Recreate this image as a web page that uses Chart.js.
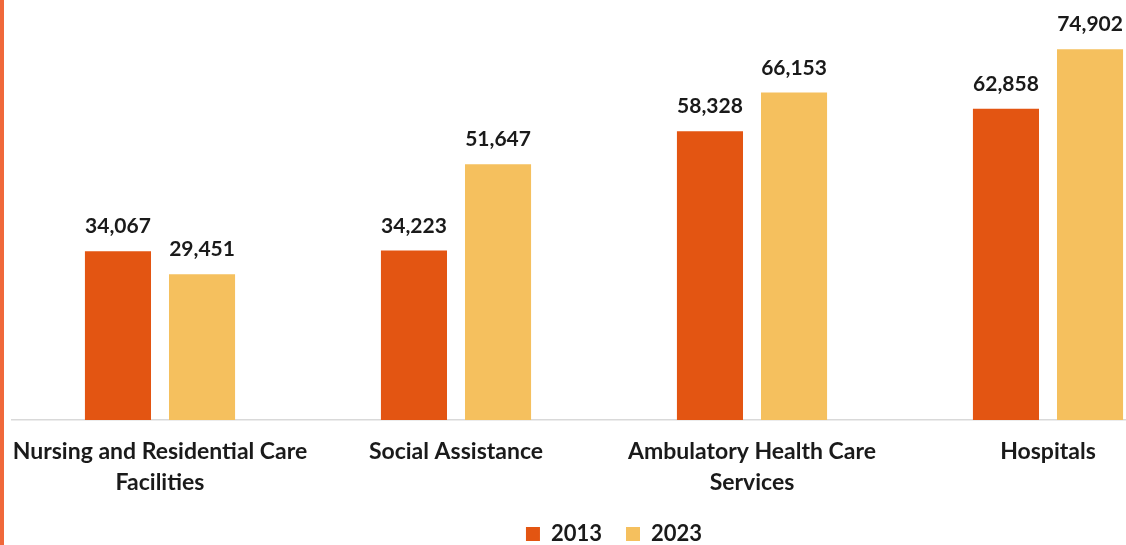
<!DOCTYPE html>
<html>
<head>
<meta charset="utf-8">
<script src="https://cdn.jsdelivr.net/npm/chart.js@4"></script>
<style>
  html,body{margin:0;padding:0;background:#fff;overflow:hidden;}
  body{width:1126px;height:545px;position:relative;}
  #edge{position:absolute;left:0;top:0;width:4px;height:545px;background:#f0683a;z-index:2;}
  #wrap{position:absolute;left:0;top:0;width:1230px;height:555px;}
</style>
</head>
<body>
<div id="edge"></div>
<div id="wrap"><canvas id="mainChart"></canvas></div>
<script>
const categories = [
  ["Nursing and Residential Care", "Facilities"],
  "Social Assistance",
  ["Ambulatory Health Care", "Services"],
  "Hospitals"
];
const years = ["2013", "2023"];
const values2013 = [34067, 34223, 58328, 62858];
const values2023 = [29451, 51647, 66153, 74902];

const FONT = "Lato, 'Open Sans', sans-serif";

// value above each bar
const valueLabels = {
  id: "valueLabels",
  afterDatasetsDraw(chart){
    const ctx = chart.ctx;
    ctx.save();
    ctx.font = "bold 21px " + FONT;
    ctx.fillStyle = "#1a1a1a";
    ctx.textAlign = "center";
    ctx.textBaseline = "alphabetic";
    chart.data.datasets.forEach((ds, i) => {
      chart.getDatasetMeta(i).data.forEach((bar, j) => {
        ctx.fillText(ds.data[j].toLocaleString("en-US"), bar.x, bar.y - 18);
      });
    });
    ctx.restore();
  }
};

let chart = new Chart(document.getElementById("mainChart").getContext("2d"), {
  type: "bar",
  data: {
    labels: categories,
    datasets: [
      {label: years[0], data: values2013, backgroundColor: "#e35512"},
      {label: years[1], data: values2023, backgroundColor: "#f5c05e"}
    ]
  },
  options: {
    responsive: true,
    maintainAspectRatio: false,
    animation: false,
    categoryPercentage: 0.568,
    barPercentage: 0.786,
    layout: {padding: {left: 12, right: 14, top: 24, bottom: 0}},
    scales: {
      x: {
        grid: {display: false, drawTicks: false},
        border: {display: true, color: "#d9d9d9", width: 1.5},
        ticks: {color: "#1a1a1a", font: {family: FONT, weight: "bold", size: 23, lineHeight: 1.35}, padding: 16, maxRotation: 0, autoSkip: false},
        afterFit: s => { s.height = 79; s.paddingLeft = 0; s.paddingRight = 0; }
      },
      y: {
        position: "right",
        min: 0,
        max: 80000,
        grid: {display: false},
        border: {display: false},
        ticks: {display: false},
        afterFit: s => { s.width = 20; }
      }
    },
    plugins: {
      legend: {
        position: "bottom",
        labels: {boxWidth: 14, boxHeight: 14, color: "#1a1a1a", font: {family: FONT, weight: "bold", size: 22, lineHeight: 1}, padding: 24}
      },
      tooltip: {enabled: false}
    }
  },
  plugins: [valueLabels]
});
</script>
</body>
</html>
